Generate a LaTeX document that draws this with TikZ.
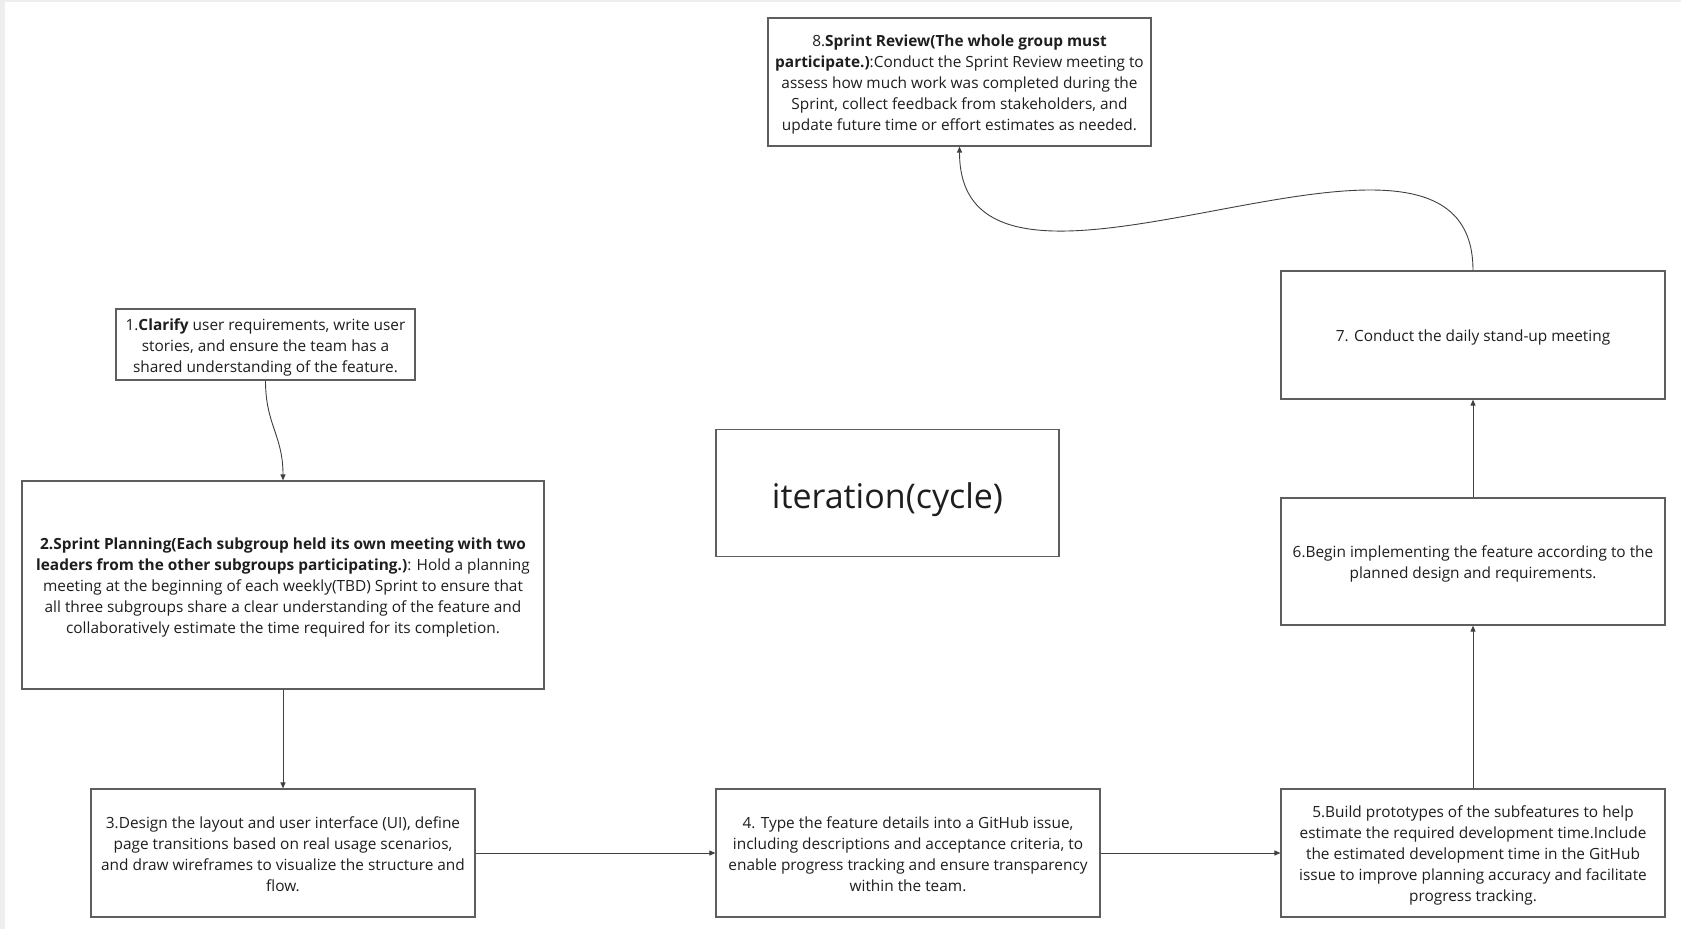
\documentclass[tikz,border=0pt]{standalone}
\usepackage{fontspec}
\setmainfont{Open Sans}
\usetikzlibrary{arrows.meta}
\definecolor{boxgray}{HTML}{5E5E5E}
\definecolor{txt}{HTML}{1E1E1E}
\definecolor{lnk}{HTML}{404040}
\definecolor{edge}{HTML}{EEEEEE}
\newcommand{\bxt}[1]{\raisebox{-2.6pt}[\height][\depth]{\begin{tabular}{@{}c@{}}#1\end{tabular}}}
\begin{document}
\begin{tikzpicture}[x=1pt,y=-1pt,
  box/.style={draw=boxgray,line width=1.2pt,inner sep=0pt,
    font=\fontsize{15.4}{21}\selectfont,text=txt},
  conn/.style={draw=lnk,line width=0.9pt,-{Triangle[length=6pt,width=5pt]}}]
\useasboundingbox (0,0) rectangle (1681,929);
\fill[white] (0,0) rectangle (1681,929);
\fill[edge] (0,0) rectangle (5,929);
\fill[edge] (0,0) rectangle (1681,2);

\node[box,minimum width=383pt,minimum height=128pt] (n8) at (959.5,82)
 {\bxt{8.\textbf{Sprint Review(The whole group must}\\\textbf{participate.)}:Conduct the Sprint Review meeting to\\assess how much work was completed during the\\Sprint, collect feedback from stakeholders, and\\update future time or effort estimates as needed.}};

\node[box,minimum width=299pt,minimum height=71pt] (n1) at (265.5,344.5)
 {\bxt{1.\textbf{Clarify} user requirements, write user\\stories, and ensure the team has a\\shared understanding of the feature.}};

\node[box,minimum width=522pt,minimum height=208pt] (n2) at (283,585)
 {\bxt{\textbf{2.Sprint Planning(Each subgroup held its own meeting with two}\\\textbf{leaders from the other subgroups participating.)}: Hold a planning\\meeting at the beginning of each weekly(TBD) Sprint to ensure that\\all three subgroups share a clear understanding of the feature and\\collaboratively estimate the time required for its completion.}};

\node[box,minimum width=384pt,minimum height=128pt] (n3) at (283,853)
 {\bxt{3.Design the layout and user interface (UI), define\\page transitions based on real usage scenarios,\\and draw wireframes to visualize the structure and\\flow.}};

\node[box,minimum width=384pt,minimum height=128pt] (n4) at (908,853)
 {\bxt{4. Type the feature details into a GitHub issue,\\including descriptions and acceptance criteria, to\\enable progress tracking and ensure transparency\\within the team.}};

\node[box,minimum width=384pt,minimum height=128pt] (n5) at (1473,853)
 {\bxt{5.Build prototypes of the subfeatures to help\\estimate the required development time.Include\\the estimated development time in the GitHub\\issue to improve planning accuracy and facilitate\\progress tracking.}};

\node[box,minimum width=384pt,minimum height=127pt] (n6) at (1473,561.5)
 {\bxt{6.Begin implementing the feature according to the\\planned design and requirements.}};

\node[box,minimum width=384pt,minimum height=128pt] (n7) at (1473,335)
 {\bxt{7. Conduct the daily stand-up meeting}};

\node[box,minimum width=343pt,minimum height=127pt,font=\fontsize{34}{40}\selectfont] (it) at (887.5,493)
 {\raisebox{-6.4pt}[\height][\depth]{iteration(cycle)}};

\draw[conn] (n1.south) .. controls (265.5,425) and (283,435) .. (n2.north);
\draw[conn] (n2) -- (n3);
\draw[conn] (n3) -- (n4);
\draw[conn] (n4) -- (n5);
\draw[conn] (n5) -- (n6);
\draw[conn] (n6) -- (n7);
\draw[conn] (n7.north) .. controls (1473,55) and (959.5,365) .. (n8.south);
\end{tikzpicture}
\end{document}
